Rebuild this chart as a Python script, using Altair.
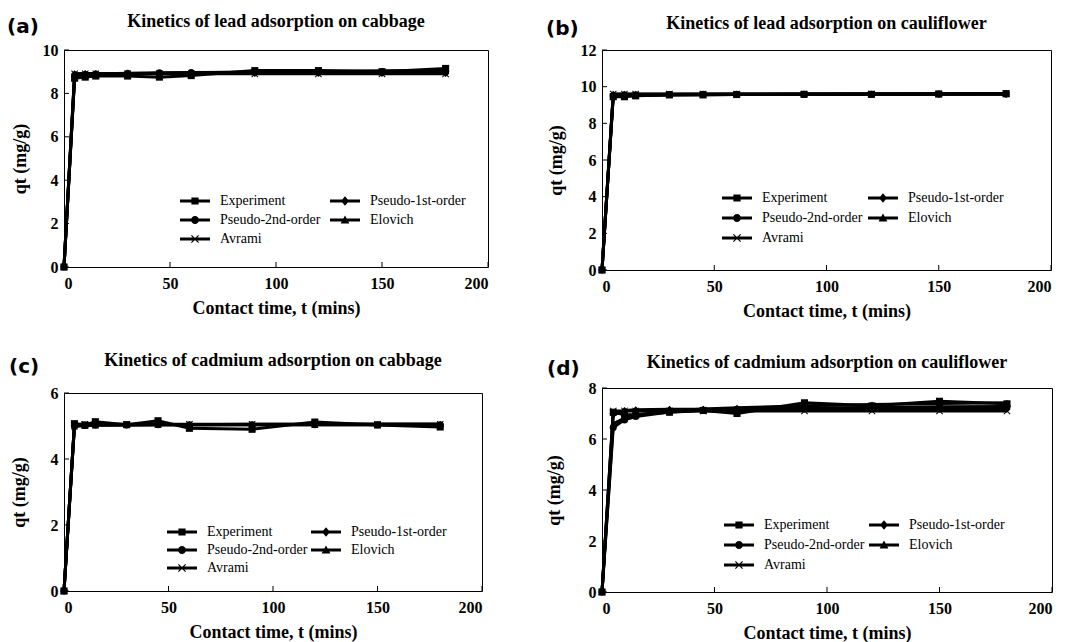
import altair as alt
import pandas as pd

# Contact times (min) shared by all four experiments
TIME = [0, 5, 10, 15, 30, 45, 60, 90, 120, 150, 180]
SERIES = ["Experiment", "Pseudo-1st-order", "Pseudo-2nd-order", "Elovich", "Avrami"]
# legend fills column by column: this order lays it out as two columns
LEGEND_ORDER = ["Experiment", "Pseudo-2nd-order", "Avrami", "Pseudo-1st-order", "Elovich"]

# (a) lead on cabbage
A_EXP = [0, 8.70, 8.75, 8.80, 8.80, 8.75, 8.82, 9.05, 9.05, 9.00, 9.15]
A_PFO = [0, 8.90, 8.92, 8.92, 8.92, 8.92, 8.92, 8.92, 8.92, 8.92, 8.92]
A_PSO = [0, 8.80, 8.86, 8.89, 8.93, 8.95, 8.96, 8.98, 8.99, 9.00, 9.00]
A_ELO = [0, 8.72, 8.79, 8.83, 8.89, 8.93, 8.95, 8.99, 9.02, 9.04, 9.06]
A_AVR = [0, 8.90, 8.90, 8.90, 8.90, 8.90, 8.90, 8.90, 8.90, 8.90, 8.90]

# (b) lead on cauliflower
B_EXP = [0, 9.45, 9.45, 9.50, 9.55, 9.55, 9.57, 9.58, 9.58, 9.60, 9.62]
B_PFO = [0, 9.58, 9.58, 9.58, 9.58, 9.58, 9.58, 9.58, 9.58, 9.58, 9.58]
B_PSO = [0, 9.50, 9.54, 9.55, 9.57, 9.58, 9.58, 9.59, 9.59, 9.60, 9.60]
B_ELO = [0, 9.47, 9.50, 9.52, 9.55, 9.57, 9.58, 9.60, 9.61, 9.62, 9.63]
B_AVR = [0, 9.60, 9.60, 9.60, 9.60, 9.60, 9.60, 9.60, 9.60, 9.60, 9.60]

# (c) cadmium on cabbage
C_EXP = [0, 5.07, 5.03, 5.13, 5.04, 5.16, 4.93, 4.90, 5.12, 5.03, 4.97]
C_PFO = [0, 5.04, 5.04, 5.04, 5.04, 5.04, 5.04, 5.04, 5.04, 5.04, 5.04]
C_PSO = [0, 5.00, 5.02, 5.03, 5.03, 5.04, 5.04, 5.04, 5.04, 5.04, 5.04]
C_ELO = [0, 4.99, 5.01, 5.02, 5.03, 5.04, 5.04, 5.05, 5.05, 5.06, 5.06]
C_AVR = [0, 5.05, 5.05, 5.05, 5.05, 5.05, 5.05, 5.05, 5.05, 5.05, 5.05]

# (d) cadmium on cauliflower
D_EXP = [0, 7.05, 6.95, 6.95, 7.05, 7.12, 7.00, 7.42, 7.30, 7.48, 7.38]
D_PFO = [0, 6.95, 7.12, 7.15, 7.17, 7.17, 7.17, 7.17, 7.17, 7.17, 7.17]
D_PSO = [0, 6.45, 6.75, 6.88, 7.06, 7.13, 7.17, 7.22, 7.24, 7.26, 7.27]
D_ELO = [0, 6.60, 6.82, 6.94, 7.10, 7.18, 7.23, 7.30, 7.35, 7.39, 7.42]
D_AVR = [0, 7.10, 7.10, 7.10, 7.10, 7.10, 7.10, 7.10, 7.10, 7.10, 7.10]

X_TICKS = [0, 50, 100, 150, 200]
SERIF = "Liberation Serif"

# "x" marker drawn as two crossed bars (unit square path)
X_PATH = "M-1,-0.8L-0.8,-1L1,0.8L0.8,1Z M-1,0.8L0.8,-1L1,-0.8L-0.8,1Z"
MARKERS = {"Experiment": "square", "Pseudo-1st-order": "diamond",
           "Pseudo-2nd-order": "circle", "Elovich": "triangle-up", "Avrami": X_PATH}

# legend symbols: a short thick line with the marker on top of it
LINE = "M-3.75,-0.375H3.75V0.375H-3.75Z "
LEGEND_SYMBOLS = {
    "Experiment": LINE + "M-0.9,-0.9H0.9V0.9H-0.9Z",
    "Pseudo-1st-order": LINE + "M0,-1.2L1,0L0,1.2L-1,0Z",
    "Pseudo-2nd-order": LINE + "M-1,0A1,1 0 1,1 1,0A1,1 0 1,1 -1,0Z",
    "Elovich": LINE + "M0,-1.1L1.1,0.9H-1.1Z",
    "Avrami": LINE + X_PATH,
}


def long_frame(columns):
    rows = []
    for name, vals in zip(SERIES, columns):
        for t, q in zip(TIME, vals):
            rows.append({"t": t, "qt": q, "series": name})
    return pd.DataFrame(rows)


def panel(tag, title, columns, ymax, w, h, title_y, title_pad,
          tag_x, tag_y, leg_x, leg_y, row_pad, col_pad):
    df = long_frame(columns)
    y_ticks = list(range(0, ymax + 1, 2))

    x = alt.X("t:Q", scale=alt.Scale(domain=[0, 200], nice=False),
              axis=alt.Axis(values=X_TICKS, title="Contact time, t (mins)"))
    y = alt.Y("qt:Q", scale=alt.Scale(domain=[0, ymax], nice=False),
              axis=alt.Axis(values=y_ticks, title="qt (mg/g)", titlePadding=title_pad))

    base = alt.Chart(df).encode(x=x, y=y)
    lines = base.mark_line(color="black", strokeWidth=3).encode(detail="series:N")
    points = base.mark_point(filled=True, color="black", opacity=1, size=50).encode(
        shape=alt.Shape("series:N",
                        scale=alt.Scale(domain=SERIES, range=[MARKERS[s] for s in SERIES]),
                        legend=None)
    )
    legend = base.transform_filter("false").mark_point(
        filled=True, color="black", opacity=1, size=64
    ).encode(
        shape=alt.Shape(
            "series:N",
            scale=alt.Scale(domain=LEGEND_ORDER,
                            range=[LEGEND_SYMBOLS[s] for s in LEGEND_ORDER]),
            legend=alt.Legend(
                orient="none", legendX=leg_x, legendY=leg_y, columns=2, title=None,
                labelFont=SERIF, labelFontSize=14, labelColor="black",
                symbolSize=64, symbolFillColor="black", symbolStrokeWidth=0,
                symbolOpacity=1, labelOffset=18, rowPadding=row_pad,
                columnPadding=col_pad, padding=0,
            ),
        )
    )

    # inward tick marks on the left and bottom edges
    y_tick_marks = alt.Chart(pd.DataFrame({"qt": y_ticks})).mark_rule(
        color="black", strokeWidth=1
    ).encode(y=y, x=alt.value(0), x2=alt.value(5))
    x_tick_marks = alt.Chart(pd.DataFrame({"t": X_TICKS})).mark_rule(
        color="black", strokeWidth=1
    ).encode(x=x, y=alt.value(h), y2=alt.value(h - 5))

    # panel letter and heading above the frame
    tag_mark = alt.Chart(pd.DataFrame({"tag": [tag]})).mark_text(
        font="DejaVu Sans", fontWeight="bold", fontSize=20, align="left",
        baseline="middle", color="black"
    ).encode(text="tag:N", x=alt.value(tag_x), y=alt.value(tag_y))
    head_mark = alt.Chart(pd.DataFrame({"head": [title]})).mark_text(
        font=SERIF, fontWeight="bold", fontSize=18, align="center",
        baseline="middle", color="black"
    ).encode(text="head:N", x=alt.value(w / 2), y=alt.value(title_y))

    return alt.layer(
        lines, points, legend, y_tick_marks, x_tick_marks, tag_mark, head_mark
    ).resolve_scale(shape="independent").properties(width=w, height=h)


pa = panel("(a)", "Kinetics of lead adsorption on cabbage",
           [A_EXP, A_PFO, A_PSO, A_ELO, A_AVR], 10, 424, 217, -28, 13,
           -57, -23, 124, 144, 5, 9)
pb = panel("(b)", "Kinetics of lead adsorption on cauliflower",
           [B_EXP, B_PFO, B_PSO, B_ELO, B_AVR], 12, 449, 220, -26, 15,
           -56, -21, 128, 141, 6, 5)
pc = panel("(c)", "Kinetics of cadmium adsorption on cabbage",
           [C_EXP, C_PFO, C_PSO, C_ELO, C_AVR], 6, 418, 198, -32, 22,
           -55, -26, 111, 132, 4, 3)
pd_ = panel("(d)", "Kinetics of cadmium adsorption on cauliflower",
            [D_EXP, D_PFO, D_PSO, D_ELO, D_AVR], 8, 450, 204, -25, 25,
            -55, -19, 130, 130, 6, 4)

# two columns, each stacked on its own so that every panel keeps its own offsets
left = alt.vconcat(pa, pc, spacing=33)
right = alt.vconcat(pb, pd_, spacing=32)

chart = alt.hconcat(left, right, spacing=55).resolve_scale(
    x="independent", y="independent", shape="independent"
).properties(
    padding={"left": 6, "top": 12, "right": 0, "bottom": 0}
).configure_view(
    stroke="black", strokeWidth=1
).configure_axis(
    labelFont=SERIF, labelFontSize=16, labelFontWeight="bold", labelColor="black",
    titleFont=SERIF, titleFontSize=18, titleFontWeight="bold", titleColor="black",
    ticks=False, domain=False, grid=False, labelPadding=6, labelOverlap=False,
).configure_axisX(
    titlePadding=8, labelPadding=8
).configure_legend(
    labelFont=SERIF
)

chart.save("out.html", embed_options={"renderer": "svg", "actions": False})
